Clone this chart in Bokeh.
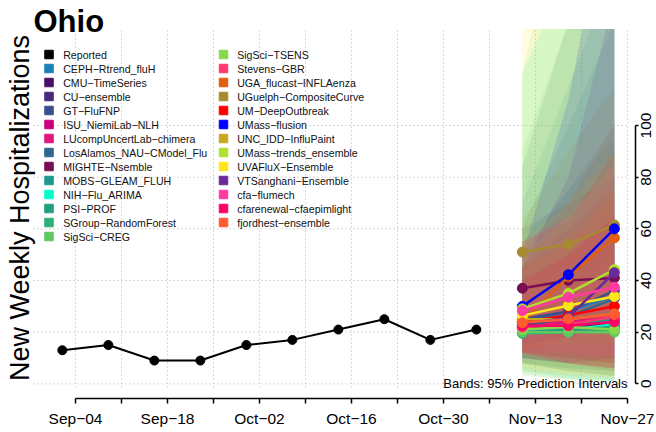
import math
from datetime import datetime
from bokeh.plotting import figure
from bokeh.models import Range1d, LinearAxis, FixedTicker
from bokeh.core.properties import value
from bokeh.embed import file_html
from bokeh.resources import INLINE

FONT = "Liberation Sans"

# ---------------- data ----------------
report_dates = ["2023-09-02", "2023-09-09", "2023-09-16", "2023-09-23", "2023-09-30",
                "2023-10-07", "2023-10-14", "2023-10-21", "2023-10-28", "2023-11-04"]
reported = [13, 15, 9, 9, 15, 17, 21, 25, 17, 21]

forecast_dates = ["2023-11-11", "2023-11-18", "2023-11-25"]

model_names = [
    "CEPH\u2212Rtrend_fluH", "CMU\u2212TimeSeries", "CU\u2212ensemble", "GT\u2212FluFNP",
    "ISU_NiemiLab\u2212NLH", "LUcompUncertLab\u2212chimera", "LosAlamos_NAU\u2212CModel_Flu",
    "MIGHTE\u2212Nsemble", "MOBS\u2212GLEAM_FLUH", "NIH\u2212Flu_ARIMA", "PSI\u2212PROF",
    "SGroup\u2212RandomForest", "SigSci\u2212CREG", "SigSci\u2212TSENS", "Stevens\u2212GBR",
    "UGA_flucast\u2212INFLAenza", "UGuelph\u2212CompositeCurve", "UM\u2212DeepOutbreak",
    "UMass\u2212flusion", "UNC_IDD\u2212InfluPaint", "UMass\u2212trends_ensemble",
    "UVAFluX\u2212Ensemble", "VTSanghani\u2212Ensemble", "cfa\u2212flumech",
    "cfarenewal\u2212cfaepimlight", "fjordhest\u2212ensemble",
]
model_colors = [
    "#1a80b8", "#4a1068", "#48287a", "#3b4f8c", "#c8007e", "#e0187a", "#2e6890",
    "#7a0e55", "#20988c", "#00ffcc", "#20a080", "#2db07a", "#60c860", "#88d848",
    "#ff3870", "#e06010", "#a88a30", "#ff0000", "#0000ff", "#c8a820", "#b0e030",
    "#ffe619", "#6a2a9c", "#ff3aa0", "#ff0066", "#ff5a30",
]
median_values = [
    [24, 28, 34], [21, 22, 23], [22, 24, 27], [25, 28, 36], [21, 21, 22],
    [23, 24, 26], [22, 26, 33], [37, 40, 41], [21, 22, 25], [20, 21, 23],
    [20, 21, 22], [19.5, 20, 21], [20, 20, 20], [21, 22, 21], [22, 23, 26],
    [24, 41.5, 56.5], [51, 54, 61.5], [24, 26.5, 30], [30, 42.2, 60], [25, 25, 27],
    [29, 35, 44.2], [26.4, 30.3, 33.8], [23, 25.8, 43], [28.3, 33.5, 37.4],
    [22.5, 22.5, 24], [23.6, 25.1, 26.8],
]
lower_95 = [
    [10, 8, 6], [8, 5, 3], [12, 10, 8], [10, 8, 8], [12, 10, 8],
    [10, 8, 6], [8, 6, 5], [20, 18, 15], [8, 6, 5], [5, 2, 1],
    [10, 8, 6], [8, 5, 3], [3, 2, 1], [4, 1, 1], [10, 8, 6],
    [12, 18, 22], [30, 28, 30], [12, 10, 8], [15, 18, 22], [5, 3, 2],
    [15, 15, 15], [6, 4, 3], [10, 8, 10], [12, 12, 10], [12, 8, 6], [12, 8, 5],
]
upper_95 = [
    [60, 100, 140], [45, 60, 75], [50, 75, 100], [84, 140, 190], [35, 42, 50],
    [45, 55, 70], [70, 115, 160], [60, 70, 80], [55, 75, 95], [120, 160, 200],
    [40, 50, 60], [45, 60, 75], [90, 140, 190], [120, 200, 260], [50, 60, 80],
    [45, 70, 100], [63, 90, 115], [55, 63, 90], [50, 110, 200], [55, 70, 90],
    [50, 65, 85], [145, 150, 160], [45, 80, 150], [55, 65, 85], [40, 50, 65], [45, 55, 75],
]

x_tick_dates = ["2023-09-04", "2023-09-18", "2023-10-02", "2023-10-16",
                "2023-10-30", "2023-11-13", "2023-11-27"]
x_tick_labels = ["Sep\u221204", "Sep\u221218", "Oct\u221202", "Oct\u221216",
                 "Oct\u221230", "Nov\u221213", "Nov\u221227"]
x_minor_dates = ["2023-09-11", "2023-09-25", "2023-10-09", "2023-10-23",
                 "2023-11-06", "2023-11-20"]
y_ticks = [0, 20, 40, 60, 80, 100]
y_tick_labels = ["0", "20", "40", "60", "80", "100"]

# ---------------- helpers ----------------
EPOCH = datetime(1970, 1, 1)
DAY_MS = 86400000.0


def to_dt(s):
    return datetime.strptime(s, "%Y-%m-%d")


def ms(d):
    return (d - EPOCH).total_seconds() * 1000.0


ANCHOR_MS = ms(to_dt("2023-09-04"))
ANCHOR_PX = 75.0
PX_PER_DAY = 552.0 / 84.0
ZERO_PY = 383.3
PX_PER_UNIT = 2.583


def xd(px):
    return ANCHOR_MS + (px - ANCHOR_PX) / PX_PER_DAY * DAY_MS


def yv(py):
    return (ZERO_PY - py) / PX_PER_UNIT


W, H = 656, 432
PLOT_TOP_PX = 28.5           # top edge of the plotting region
YMAX = yv(PLOT_TOP_PX)


def clip_top(xs, ys, ymax):
    """Clip a polygon to y <= ymax (plot-region clipping)."""
    out_x, out_y = [], []
    n = len(xs)
    for i in range(n):
        x0, y0 = xs[i - 1], ys[i - 1]
        x1, y1 = xs[i], ys[i]
        in0, in1 = y0 <= ymax, y1 <= ymax
        if in1:
            if not in0:
                t = (ymax - y0) / (y1 - y0)
                out_x.append(x0 + t * (x1 - x0)); out_y.append(ymax)
            out_x.append(x1); out_y.append(y1)
        elif in0:
            t = (ymax - y0) / (y1 - y0)
            out_x.append(x0 + t * (x1 - x0)); out_y.append(ymax)
    return out_x, out_y


p = figure(width=W, height=H, output_backend="svg", toolbar_location=None,
           x_range=Range1d(xd(0), xd(W)),
           y_range=Range1d(yv(H), yv(0)),
           x_axis_location=None, y_axis_location=None,
           min_border_left=0, min_border_right=0, min_border_top=0, min_border_bottom=0)
p.outline_line_color = None
p.grid.visible = False
p.background_fill_color = "white"
p.border_fill_color = "white"

rx = [ms(to_dt(d)) for d in report_dates]
fx = [ms(to_dt(d)) for d in forecast_dates]
major = [ms(to_dt(d)) for d in x_tick_dates]
minor = [ms(to_dt(d)) for d in x_minor_dates]
weekly = sorted(major + minor)

# grid
GRID = dict(line_color="#b4b4b4", line_dash="1 3", line_width=1)
p.segment(x0=weekly, x1=weekly, y0=[yv(387)] * len(weekly), y1=[yv(29.5)] * len(weekly), **GRID)
p.segment(x0=[xd(33)] * len(y_ticks), x1=[major[-1]] * len(y_ticks), y0=y_ticks, y1=y_ticks, **GRID)

# bands (clipped to the plotting region)
for c, lo, up in zip(model_colors, lower_95, upper_95):
    poly_x = fx + fx[::-1]
    poly_y = list(up) + list(lo)[::-1]
    cx, cy = clip_top(poly_x, poly_y, YMAX)
    p.patch(cx, cy, fill_color=c, fill_alpha=0.13, line_color=None)

# reported
p.line(rx, reported, line_color="black", line_width=2)
p.scatter(rx, reported, size=9, color="black")

# forecasts
for c, med in zip(model_colors, median_values):
    p.line(fx, med, line_color=c, line_width=2.5)
    p.scatter(fx, med, size=10, color=c)

# band note
p.text(x=[major[-1]], y=[0], text=["Bands: 95% Prediction Intervals"],
       text_align="right", text_baseline="middle", text_font=value(FONT),
       text_font_size="13px", text_color="black")

# legend
legend_names = ["Reported"] + model_names
legend_colors = ["black"] + model_colors
n1 = 14
for i, (nm, c) in enumerate(zip(legend_names, legend_colors)):
    col, row = divmod(i, n1)
    sq_px = 48.5 if col == 0 else 223.0
    tx_px = 62.7 if col == 0 else 236.7
    ypx = 54 + 14 * row
    p.scatter([xd(sq_px)], [yv(ypx)], marker="square", size=8.5, color=c)
    p.text(x=[xd(tx_px)], y=[yv(ypx)], text=[nm], text_align="left", text_baseline="middle",
           text_font=value(FONT), text_font_size="10.6px", text_color="#111111")

# y label
p.text(x=[xd(19)], y=[yv(207.5)], text=["New Weekly Hospitalizations"], angle=math.pi / 2,
       text_align="center", text_baseline="middle", text_font=value(FONT),
       text_font_size="27px", text_color="black")

# right-axis tick labels (rotated, centred on ticks)
p.text(x=[xd(640)] * len(y_ticks), y=y_ticks, text=y_tick_labels, angle=math.pi / 2,
       text_align="center", text_baseline="top", text_font=value(FONT),
       text_font_size="15.5px", text_color="black")

# title
p.text(x=[xd(33)], y=[yv(20.5)], text=["Ohio"], text_font=value(FONT), text_font_size="31px",
       text_font_style="bold", text_baseline="middle", text_align="left", text_color="black")

# axes
xaxis = LinearAxis(ticker=FixedTicker(ticks=major, minor_ticks=minor),
                   major_label_overrides={int(t): lab for t, lab in zip(major, x_tick_labels)},
                   fixed_location=yv(398), bounds=(major[0], major[-1]))
yaxis = LinearAxis(ticker=FixedTicker(ticks=y_ticks), fixed_location=xd(635), bounds=(0, 100),
                   major_label_overrides={t: "" for t in y_ticks})
for ax in (xaxis, yaxis):
    ax.axis_line_width = 1.5
    ax.axis_line_color = "black"
    ax.major_tick_line_width = 1.5
    ax.minor_tick_line_width = 1.5
    ax.major_tick_line_color = "black"
    ax.minor_tick_line_color = "black"
    ax.major_tick_in = 0
    ax.minor_tick_in = 0
    ax.major_label_text_font = FONT
    ax.major_label_text_font_size = "15.5px"
    ax.major_label_text_color = "black"
xaxis.major_tick_out = 5
xaxis.minor_tick_out = 5
xaxis.major_label_standoff = 6
yaxis.major_tick_out = 3
yaxis.minor_tick_out = 0
yaxis.major_label_standoff = 4
p.add_layout(xaxis, "below")
p.add_layout(yaxis, "right")

open("out.html", "w").write(file_html(p, INLINE))
